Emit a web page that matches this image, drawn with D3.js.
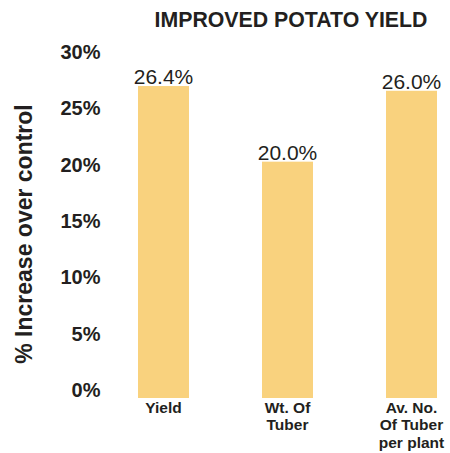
<!DOCTYPE html>
<html><head><meta charset="utf-8">
<script src="https://cdn.jsdelivr.net/npm/d3@7"></script>
<style>
html,body{margin:0;padding:0;background:#fff;}
text{font-family:"Liberation Sans",Arial,Helvetica,sans-serif;fill:#231F20;}
</style></head>
<body>
<script>
const categories = [["Yield"], ["Wt. Of", "Tuber"], ["Av. No.", "Of Tuber", "per plant"]];
const values = [26.4, 20.0, 26.0];
const valueLabels = ["26.4%", "20.0%", "26.0%"];
const tickValues = [0, 5, 10, 15, 20, 25, 30];
const title = "IMPROVED POTATO YIELD";
const yTitle = "% Increase over control";

const W = 450, H = 453;
const svg = d3.select("body").append("svg").attr("width", W).attr("height", H);

const keys = categories.map((c, i) => i);
const x = d3.scalePoint().domain(keys).range([163.5, 411.5]);
const barW = 51;
const y = d3.scaleLinear().domain([0, 30]).range([398, 43.5]);
const yTick = d3.scaleLinear().domain([0, 30]).range([396.7, 58.3]);

svg.append("text").attr("x", 291).attr("y", 27).attr("text-anchor", "middle")
  .style("font-weight", "bold").style("font-size", "21.3px").text(title);

svg.append("text").attr("transform", "translate(32,234) rotate(-90)")
  .attr("text-anchor", "middle").style("font-weight", "bold").style("font-size", "23px").text(yTitle);

const axis = d3.axisLeft(yTick).tickValues(tickValues).tickFormat(d => d + "%").tickSize(0).tickPadding(0);
const ag = svg.append("g").attr("transform", "translate(100.5,0)").call(axis);
ag.select(".domain").remove();
ag.selectAll("text").attr("dy", null).attr("x", 0)
  .style("font-family", "'Liberation Sans',Arial,sans-serif").style("font-weight", "bold")
  .style("font-size", "20px").style("fill", "#231F20").attr("text-anchor", "end");

svg.selectAll("rect.bar").data(values).join("rect").attr("class", "bar")
  .attr("x", (d, i) => x(i) - barW / 2).attr("width", barW)
  .attr("y", d => y(d)).attr("height", d => y(0) - y(d))
  .attr("fill", "#F9D27E");

svg.selectAll("text.val").data(values).join("text").attr("class", "val")
  .attr("text-anchor", "middle")
  .attr("x", (d, i) => x(i)).attr("y", d => y(d) - 2)
  .style("font-size", "21px").text((d, i) => valueLabels[i]);

const cg = svg.selectAll("text.cat").data(categories).join("text").attr("class", "cat")
  .attr("text-anchor", "middle").style("font-weight", "bold").style("font-size", "15.5px");
cg.selectAll("tspan").data(d => d).join("tspan")
  .attr("x", function () { return x(categories.indexOf(d3.select(this.parentNode).datum())); })
  .attr("y", (d, j) => 413 + j * 17.3).text(d => d);
</script>
</body></html>
